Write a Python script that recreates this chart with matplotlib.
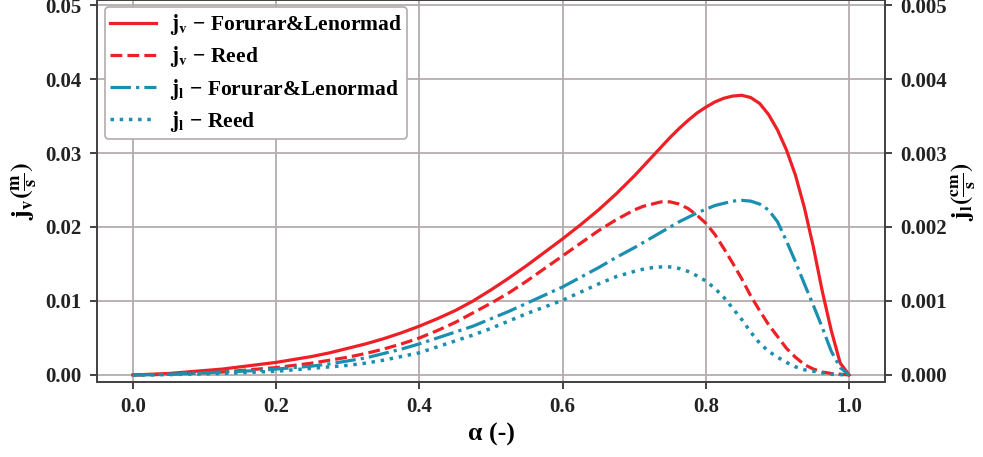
import numpy as np
import matplotlib
matplotlib.use("Agg")
import matplotlib.pyplot as plt

plt.rcParams['font.family'] = ['Liberation Serif', 'DejaVu Serif']
plt.rcParams['font.weight'] = 'bold'
plt.rcParams['mathtext.fontset'] = 'stix'

# alpha (-)
alpha = [0.0, 0.025, 0.05, 0.075, 0.1, 0.125, 0.15, 0.175, 0.2, 0.225, 0.25, 0.275, 0.3, 0.325,
         0.35, 0.375, 0.4, 0.425, 0.45, 0.475, 0.5, 0.525, 0.55, 0.575, 0.6, 0.625, 0.65,
         0.675, 0.7, 0.7125, 0.725, 0.7375, 0.75, 0.7625, 0.775, 0.7875, 0.8, 0.8125, 0.825,
         0.8375, 0.85, 0.8625, 0.875, 0.8875, 0.9, 0.9125, 0.925, 0.9375, 0.95, 0.9625, 0.975,
         0.9875, 1.0]

# jv (m/s)
jv_fl = [0, 0.0001, 0.0002, 0.0004, 0.0006, 0.0008, 0.0011, 0.0014, 0.0017, 0.0021, 0.0025,
         0.0030, 0.0036, 0.0042, 0.0049, 0.0057, 0.0066, 0.0076, 0.0087, 0.0100, 0.0115,
         0.0131, 0.0148, 0.0166, 0.0184, 0.0203, 0.0223, 0.0245, 0.0269, 0.0282, 0.0295,
         0.0308, 0.0321, 0.0333, 0.0344, 0.0354, 0.0362, 0.0369, 0.0374, 0.0377, 0.0378,
         0.0375, 0.0367, 0.0352, 0.0331, 0.0304, 0.0270, 0.0226, 0.0173, 0.0113, 0.0060,
         0.0016, 0.0]
jv_reed = [0, 0.00003, 0.0001, 0.0002, 0.0003, 0.0004, 0.0006, 0.0008, 0.0010, 0.0013, 0.0016,
           0.0020, 0.0024, 0.0029, 0.0035, 0.0042, 0.0050, 0.0060, 0.0071, 0.0084, 0.0097,
           0.0111, 0.0127, 0.0144, 0.0161, 0.0178, 0.0195, 0.0210, 0.0223, 0.0228, 0.0231,
           0.0234, 0.0234, 0.0231, 0.0225, 0.0216, 0.0205, 0.0190, 0.0171, 0.0151, 0.0130,
           0.0107, 0.0087, 0.0068, 0.0052, 0.0036, 0.0024, 0.0014, 0.0008, 0.0004, 0.0002,
           0.0001, 0.0]

# jl (cm/s)
jl_fl = [0, 0.000003, 0.00001, 0.00002, 0.00003, 0.00004, 0.00005, 0.00006, 0.00008, 0.00010,
         0.00012, 0.00015, 0.00019, 0.00023, 0.00029, 0.00035, 0.00042, 0.00050, 0.00058,
         0.00066, 0.00076, 0.00086, 0.00097, 0.00108, 0.00119, 0.00132, 0.00145, 0.00159,
         0.00172, 0.00179, 0.00186, 0.00193, 0.00200, 0.00207, 0.00213, 0.00219, 0.00224,
         0.00229, 0.00232, 0.00235, 0.00236, 0.00235, 0.00231, 0.00223, 0.00207, 0.00181,
         0.00153, 0.00123, 0.00094, 0.00064, 0.00032, 0.00010, 0.0]
jl_reed = [0, 0.000002, 0.000005, 0.00001, 0.000015, 0.00002, 0.00003, 0.00004, 0.00005,
           0.00007, 0.00009, 0.00011, 0.00013, 0.00016, 0.00020, 0.00025, 0.00030, 0.00038,
           0.00046, 0.00054, 0.00063, 0.00073, 0.00083, 0.00092, 0.00101, 0.00112, 0.00123,
           0.00133, 0.00140, 0.00143, 0.00145, 0.00146, 0.00146, 0.00144, 0.00140, 0.00134,
           0.00127, 0.00117, 0.00105, 0.00090, 0.00075, 0.00058, 0.00043, 0.00032, 0.00024,
           0.00017, 0.00011, 0.00007, 0.00005, 0.00003, 0.00001, 0.000005, 0.0]

red = '#ee2026'
teal = '#1a8fb0'

fig = plt.figure(figsize=(9.83, 4.57), dpi=100)
ax = fig.add_axes([97/983, 75/457, (885-97)/983, 382/457])
ax2 = ax.twinx()

l1, = ax.plot(alpha, jv_fl, color=red, ls='-', lw=2.3, label=r'$\mathbf{j_v}$ − Forurar&Lenormad')
l2, = ax.plot(alpha, jv_reed, color=red, ls='--', lw=2.3, label=r'$\mathbf{j_v}$ − Reed')
l3, = ax2.plot(alpha, jl_fl, color=teal, ls='-.', lw=2.3, label=r'$\mathbf{j_l}$ − Forurar&Lenormad')
l4, = ax2.plot(alpha, jl_reed, color=teal, ls=':', lw=2.5, label=r'$\mathbf{j_l}$ − Reed')

ax.set_xlim(-0.05, 1.05)
ax.set_ylim(-0.00095, 0.05068)
ax2.set_ylim(-0.000095, 0.005068)
ax.set_xticks([0.0, 0.2, 0.4, 0.6, 0.8, 1.0])
ax.set_yticks([0.0, 0.01, 0.02, 0.03, 0.04, 0.05])
ax2.set_yticks([0.0, 0.001, 0.002, 0.003, 0.004, 0.005])
ax.set_yticklabels(['0.00', '0.01', '0.02', '0.03', '0.04', '0.05'])
ax2.set_yticklabels(['0.000', '0.001', '0.002', '0.003', '0.004', '0.005'])

ax.grid(True, color='#b4acac', lw=1.3)
for a in (ax, ax2):
    a.tick_params(labelsize=15, colors='#222222', width=1.2, length=5, pad=6)
    for s in a.spines.values():
        s.set_color('#444444')
        s.set_linewidth(1.3)

ax.set_xlabel('α (-)', fontsize=18.5, fontweight='bold', labelpad=4)
ax.set_ylabel(r'$\mathbf{j_v\left(\frac{m}{s}\right)}$', fontsize=19, labelpad=4)
ax2.set_ylabel(r'$\mathbf{j_l\left(\frac{cm}{s}\right)}$', fontsize=18, labelpad=2)

leg = ax2.legend(handles=[l1, l2, l3, l4], loc='upper left', fontsize=15.5,
                 handlelength=2.1, handletextpad=0.65, labelspacing=0.33, borderpad=0.25,
                 edgecolor='#b4acac', framealpha=1,
                 borderaxespad=0, bbox_to_anchor=(0.0102, 0.9817))
leg.get_frame().set_linewidth(1.2)

fig.savefig('out.png', dpi=100)
